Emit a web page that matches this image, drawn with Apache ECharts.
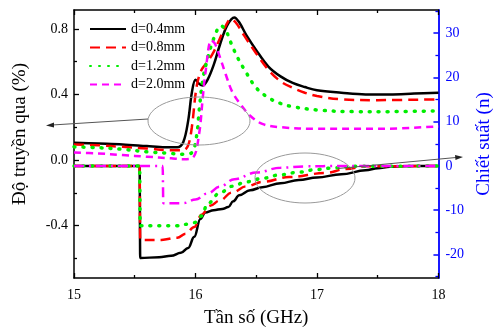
<!DOCTYPE html>
<html>
<head>
<meta charset="utf-8">
<script src="https://cdn.jsdelivr.net/npm/echarts@6/dist/echarts.min.js"></script>
<style>
  html, body { margin: 0; padding: 0; background: #fff; }
  #chart { width: 502px; height: 333px; }
</style>
</head>
<body>
<div id="chart"></div>
<script>
// legend names, one per sample thickness
const names = ['d=0.4mm', 'd=0.8mm', 'd=1.2mm', 'd=2.0mm']

// transmission (left axis), [GHz, value]
const transD04 = [[15.0,0.105],[15.2,0.10],[15.4,0.095],[15.6,0.085],[15.75,0.078],[15.85,0.078],[15.9,0.11],[15.94,0.24],[15.97,0.41],[16.0,0.49],[16.03,0.465],[16.06,0.455],[16.1,0.49],[16.15,0.58],[16.2,0.7],[16.26,0.82],[16.32,0.87],[16.36,0.84],[16.42,0.76],[16.5,0.67],[16.6,0.57],[16.7,0.51],[16.8,0.47],[16.9,0.445],[17.0,0.425],[17.2,0.41],[17.4,0.40],[17.6,0.40],[17.8,0.405],[18.0,0.41]]
const transD08 = [[15.0,0.095],[15.2,0.09],[15.4,0.08],[15.6,0.07],[15.8,0.06],[15.9,0.06],[15.94,0.09],[15.97,0.2],[16.01,0.45],[16.05,0.55],[16.1,0.6],[16.15,0.66],[16.2,0.74],[16.25,0.82],[16.29,0.86],[16.33,0.84],[16.4,0.76],[16.5,0.65],[16.6,0.55],[16.7,0.48],[16.8,0.44],[16.9,0.41],[17.0,0.39],[17.2,0.37],[17.5,0.365],[18.0,0.37]]
const transD12 = [[15.0,0.08],[15.2,0.075],[15.4,0.065],[15.6,0.05],[15.8,0.04],[15.9,0.035],[15.97,0.045],[16.01,0.15],[16.03,0.3],[16.06,0.49],[16.1,0.62],[16.15,0.74],[16.21,0.82],[16.25,0.79],[16.3,0.7],[16.35,0.62],[16.42,0.53],[16.5,0.44],[16.6,0.38],[16.7,0.345],[16.8,0.325],[17.0,0.305],[17.3,0.295],[17.6,0.295],[18.0,0.30]]
const transD20 = [[15.0,0.045],[15.2,0.04],[15.4,0.03],[15.6,0.02],[15.8,0.01],[15.9,0.005],[15.98,0.015],[16.03,0.16],[16.06,0.38],[16.08,0.52],[16.13,0.73],[16.16,0.71],[16.2,0.63],[16.25,0.52],[16.3,0.42],[16.37,0.34],[16.45,0.27],[16.55,0.22],[16.7,0.2],[17.0,0.19],[17.5,0.19],[18.0,0.205]]

// refractive index (right axis), [GHz, n]
const indexD04 = [[15.0,0],[15.54,0],[15.545,-20.8],[15.7,-20.6],[15.8,-20.3],[15.88,-19.6],[15.94,-18.5],[15.99,-16],[16.04,-12],[16.08,-10.5],[16.15,-10],[16.22,-9.7],[16.27,-9.3],[16.31,-8],[16.36,-6.6],[16.45,-5.5],[16.55,-4.8],[16.7,-3.9],[16.85,-3.2],[17.0,-2.6],[17.2,-1.9],[17.4,-1.0],[17.5,-0.5],[17.6,-0.2],[17.8,0],[18.0,0]]
const indexD08 = [[15.0,0],[15.54,0],[15.545,-16.7],[15.72,-16.7],[15.85,-16.2],[15.92,-15.3],[15.99,-13.8],[16.05,-11],[16.12,-9],[16.2,-7.8],[16.3,-6],[16.42,-4.6],[16.55,-3.6],[16.77,-2.5],[17.07,-1.6],[17.24,-0.7],[17.4,-0.1],[18.0,0]]
const indexD12 = [[15.0,0],[15.54,0],[15.545,-13.5],[15.85,-13.5],[15.95,-13.1],[15.99,-12.8],[16.05,-11.3],[16.1,-8.5],[16.2,-6.1],[16.3,-4.6],[16.42,-3.6],[16.55,-2.8],[16.7,-2],[16.85,-1.4],[17.0,-0.8],[17.15,-0.4],[17.3,-0.1],[18.0,0]]
const indexD20 = [[15.0,0],[15.73,0],[15.735,-8.4],[15.9,-8.4],[16.0,-7.6],[16.1,-6.2],[16.2,-4.7],[16.32,-3.0],[16.5,-1.5],[16.7,-0.4],[16.9,-0.1],[17.2,0],[18.0,0]]

// tick positions
const xTicks = [15, 16, 17, 18]
const leftTicks = [-0.4, 0, 0.4, 0.8]
const leftMinor = [-0.6, -0.2, 0.2, 0.6]
const rightTicks = [-20, -10, 0, 10, 20, 30]
const rightMinor = [-25, -15, -5, 5, 15, 25, 35]

const serif = 'Liberation Serif'
const styles = [
    { color: '#000000', type: 'solid', width: 2.5 },
    { color: '#ff0000', type: [10, 6], width: 2.5 },
    { color: '#00ee00', type: [1, 8], width: 3.5, cap: 'round' },
    { color: '#ff00ff', type: [7, 5], width: 2.5 }
]
const magentaDashDot = [10, 5, 2, 5]

// transmission curves are smooth; index curves keep x-monotone smoothing for the vertical drops
const makeSeries = (name, data, yAxisIndex, st, typeOverride) => ({
    name,
    type: 'line',
    yAxisIndex,
    data,
    symbol: 'none',
    smooth: yAxisIndex === 0 ? 0.35 : 0.4,
    smoothMonotone: yAxisIndex === 0 ? undefined : 'x',
    color: st.color,
    lineStyle: { color: st.color, width: st.width, type: typeOverride || st.type, cap: st.cap || 'butt' }
})

const chart = echarts.init(document.getElementById('chart'))

const minorAxis = (min, max, values, position, color) => ({
    type: 'value', min, max, position,
    axisLine: { show: false },
    axisLabel: { show: false },
    splitLine: { show: false },
    axisTick: { show: true, inside: true, length: 3, customValues: values, lineStyle: { color, width: 1.3 } }
})

const option = {
    animation: false,
    grid: { left: 74, right: 62, top: 10, bottom: 55 },
    legend: {
        data: names,
        orient: 'vertical',
        left: 84,
        top: 17,
        itemWidth: 36,
        itemHeight: 14,
        itemGap: 4.5,
        itemStyle: { opacity: 0 },
        textStyle: { fontFamily: serif, fontSize: 14, color: '#000' }
    },
    xAxis: [
        {
            type: 'value', min: 15, max: 18, interval: 1,
            name: 'Tần số (GHz)', nameLocation: 'middle', nameGap: 31,
            nameTextStyle: { fontFamily: serif, fontSize: 19, color: '#000' },
            axisLine: { onZero: false, lineStyle: { color: '#000', width: 1.5 } },
            axisTick: { inside: true, length: 5, lineStyle: { width: 1.3 } },
            minorTick: { show: true, splitNumber: 2, length: 3, lineStyle: { color: '#000', width: 1.3 } },
            axisLabel: { margin: 10, fontFamily: serif, fontSize: 14, color: '#000',
                customValues: xTicks },
            splitLine: { show: false }
        },
        {
            type: 'value', min: 15, max: 18, interval: 1, position: 'top',
            axisLine: { onZero: false, lineStyle: { color: '#000', width: 1.5 } },
            axisTick: { inside: true, length: 5, lineStyle: { width: 1.3 } },
            minorTick: { show: true, splitNumber: 2, length: 3, lineStyle: { color: '#000', width: 1.3 } },
            axisLabel: { show: false },
            splitLine: { show: false }
        }
    ],
    yAxis: [
        {
            type: 'value', min: -0.72, max: 0.915, position: 'left',
            name: 'Độ truyền qua (%)', nameLocation: 'middle', nameGap: 44, nameRotate: 90,
            nameTextStyle: { fontFamily: serif, fontSize: 19, color: '#000', padding: [0, 0, 0, 20] },
            axisLine: { show: true, onZero: false, lineStyle: { color: '#000', width: 1.5 } },
            axisTick: { show: true, inside: true, length: 5, customValues: leftTicks, lineStyle: { width: 1.3 } },
            axisLabel: { margin: 6, fontFamily: serif, fontSize: 14, color: '#000',
                customValues: leftTicks, formatter: v => v.toFixed(1) },
            splitLine: { show: false }
        },
        minorAxis(-0.72, 0.915, leftMinor, 'left', '#000'),
        {
            type: 'value', min: -25.3, max: 35.2, position: 'right',
            name: 'Chiết suất (n)', nameLocation: 'middle', nameGap: 36, nameRotate: 90,
            nameTextStyle: { fontFamily: serif, fontSize: 19, color: '#0000ff' },
            axisLine: { show: true, onZero: false, lineStyle: { color: '#0000ff', width: 1.8 } },
            axisTick: { show: true, inside: true, length: 5, customValues: rightTicks, lineStyle: { width: 1.5 } },
            axisLabel: { margin: 7, fontFamily: serif, fontSize: 14, color: '#0000ff',
                customValues: rightTicks },
            splitLine: { show: false }
        },
        minorAxis(-25.3, 35.2, rightMinor, 'right', '#0000ff')
    ],
    series: [
        makeSeries(names[0], transD04, 0, styles[0]),
        makeSeries(names[1], transD08, 0, styles[1]),
        makeSeries(names[2], transD12, 0, styles[2]),
        makeSeries(names[3], transD20, 0, styles[3]),
        makeSeries(names[0], indexD04, 2, styles[0]),
        makeSeries(names[1], indexD08, 2, styles[1]),
        makeSeries(names[2], indexD12, 2, styles[2]),
        makeSeries(names[3], indexD20, 2, styles[3], magentaDashDot)
    ],
    graphic: [
        // annotation ellipses and arrows
        { type: 'ellipse', shape: { cx: 199, cy: 121, rx: 51, ry: 24 }, style: { fill: 'none', stroke: '#999', lineWidth: 1 }, z: 100 },
        { type: 'line', shape: { x1: 148, y1: 119, x2: 52, y2: 125 }, style: { stroke: '#555', lineWidth: 1 }, z: 100 },
        { type: 'polygon', shape: { points: [[46, 125.4], [54, 122.5], [54, 127.5]] }, style: { fill: '#222' }, z: 100 },
        { type: 'ellipse', shape: { cx: 305, cy: 178, rx: 50, ry: 25 }, style: { fill: 'none', stroke: '#999', lineWidth: 1 }, z: 100 },
        { type: 'line', shape: { x1: 338, y1: 168.5, x2: 456, y2: 157.5 }, style: { stroke: '#555', lineWidth: 1 }, z: 100 },
        { type: 'polygon', shape: { points: [[463, 157], [455, 155], [455.5, 160]] }, style: { fill: '#222' }, z: 100 }
    ]
}

chart.setOption(option)
</script>
</body>
</html>
